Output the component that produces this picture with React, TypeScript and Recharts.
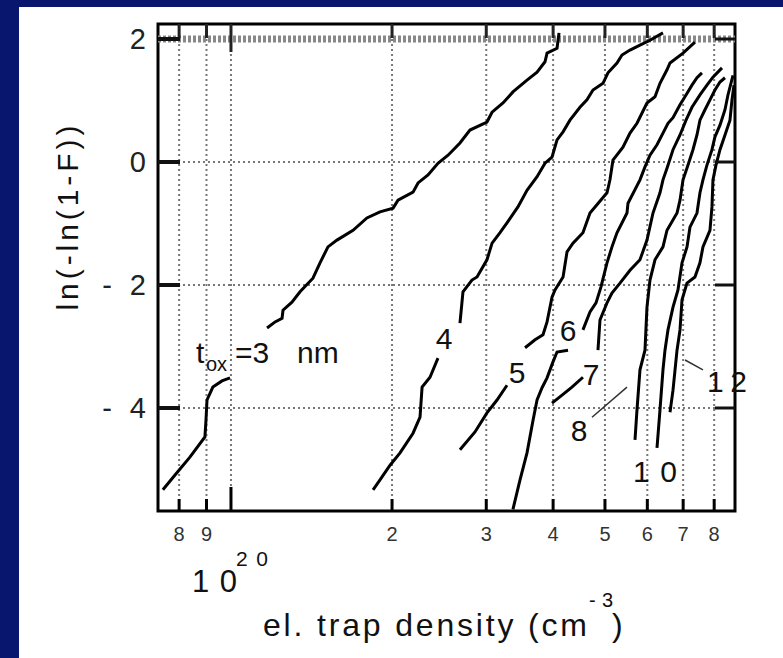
import React from 'react'
import { ComposedChart, Line, XAxis, YAxis, CartesianGrid, ReferenceLine, ReferenceArea } from 'recharts'

// x in units of 1e20 cm^-3, y = ln(-ln(1-F))
const tox3Low = [[0.746, -5.33], [0.786, -5.09], [0.838, -4.8], [0.894, -4.47], [0.898, -4.2], [0.902, -3.87], [0.925, -3.66], [0.962, -3.56], [0.996, -3.51]]
const tox3High = [[1.168, -2.7], [1.209, -2.6], [1.246, -2.54], [1.251, -2.41], [1.3, -2.28], [1.346, -2.11], [1.423, -1.89], [1.467, -1.64], [1.518, -1.38], [1.578, -1.27], [1.691, -1.11], [1.795, -0.91], [1.899, -0.81], [2.009, -0.75], [2.052, -0.62], [2.189, -0.49], [2.237, -0.34], [2.335, -0.21], [2.437, -0.02], [2.545, 0.11], [2.679, 0.31], [2.797, 0.52], [3.009, 0.65], [3.076, 0.81], [3.224, 0.96], [3.365, 1.14], [3.575, 1.33], [3.733, 1.46], [3.863, 1.63], [3.897, 1.77], [4.068, 1.85], [4.103, 2.1]]
const tox4Low = [[1.843, -5.33], [1.899, -5.17], [1.983, -4.93], [2.07, -4.73], [2.189, -4.41], [2.256, -4.15], [2.276, -3.66], [2.355, -3.5], [2.437, -3.19]]
const tox4High = [[2.679, -2.62], [2.714, -2.11], [2.821, -1.92], [2.883, -1.87], [3.009, -1.59], [3.076, -1.32], [3.183, -1.15], [3.28, -0.99], [3.438, -0.73], [3.575, -0.46], [3.733, -0.24], [3.863, -0.02], [3.981, 0.08], [4.068, 0.36], [4.175, 0.49], [4.301, 0.68], [4.49, 0.89], [4.627, 1.01], [4.749, 1.17], [4.958, 1.28], [5.065, 1.45], [5.265, 1.61], [5.38, 1.74], [5.569, 1.82], [5.813, 1.9], [6.069, 1.98], [6.418, 2.1]]
const tox5Low = [[2.679, -4.68], [2.858, -4.39], [3.009, -4.08], [3.142, -3.87], [3.28, -3.63]]
const tox5High = [[3.545, -3.02], [3.701, -2.89], [3.83, -2.81], [3.897, -2.6], [3.981, -2.2], [4.033, -2.08], [4.175, -1.87], [4.247, -1.46], [4.357, -1.32], [4.548, -1.15], [4.688, -0.83], [5.044, -0.5], [5.109, -0.29], [5.175, 0.03], [5.403, 0.24], [5.569, 0.47], [5.739, 0.63], [5.991, 0.96], [6.201, 1.06], [6.336, 1.28], [6.53, 1.5], [6.615, 1.61], [6.996, 1.77], [7.365, 1.95]]
const tox6Low = [[3.365, -5.65], [3.469, -5.17], [3.575, -4.73], [3.669, -4.2], [3.733, -3.87], [3.814, -3.67], [3.897, -3.51], [3.998, -3.25], [4.068, -3.09], [4.265, -3.06]]
const tox6High = [[4.548, -2.73], [4.688, -2.44], [4.811, -2.29], [4.915, -2.03], [5.044, -1.64], [5.153, -1.38], [5.265, -1.15], [5.497, -0.83], [5.521, -0.67], [5.813, -0.29], [5.94, -0.08], [6.069, 0.11], [6.255, 0.28], [6.418, 0.47], [6.558, 0.63], [6.701, 0.72], [6.906, 0.93], [7.087, 1.09], [7.271, 1.25], [7.429, 1.37], [7.59, 1.45]]
const tox7Low = [[3.981, -3.92], [4.157, -3.79], [4.338, -3.66], [4.548, -3.5]]
const tox7High = [[4.852, -3.06], [4.894, -2.57], [5.044, -2.29], [5.153, -2.13], [5.334, -1.97], [5.569, -1.76], [5.813, -1.59], [5.991, -1.27], [6.148, -0.83], [6.336, -0.5], [6.418, -0.29], [6.53, -0.1], [6.701, 0.2], [6.906, 0.44], [7.087, 0.68], [7.271, 0.89], [7.525, 1.09], [7.755, 1.25], [7.958, 1.38], [8.273, 1.53]]
const tox8 = [[5.69, -4.52], [5.739, -4.03], [5.813, -3.38], [5.94, -3.06], [5.991, -2.36], [6.069, -1.92], [6.201, -1.59], [6.418, -1.38], [6.53, -1.11], [6.818, -0.83], [6.906, -0.62], [6.996, -0.29], [7.148, -0.05], [7.302, 0.2], [7.429, 0.44], [7.525, 0.68], [7.689, 0.85], [7.856, 1.01], [8.027, 1.17], [8.202, 1.3], [8.381, 1.37]]
const tox10 = [[6.255, -4.65], [6.336, -4.03], [6.418, -3.38], [6.474, -3.06], [6.558, -2.73], [6.701, -2.36], [6.846, -2.08], [6.966, -1.64], [7.117, -1.38], [7.208, -1.06], [7.429, -0.83], [7.525, -0.5], [7.623, -0.29], [7.755, -0.05], [7.924, 0.2], [8.027, 0.41], [8.202, 0.6], [8.381, 0.85], [8.489, 1.09], [8.675, 1.41]]
const tox12 = [[6.615, -4.07], [6.701, -3.71], [6.818, -3.06], [6.906, -2.73], [6.966, -2.24], [7.117, -1.97], [7.365, -1.87], [7.525, -1.64], [7.623, -1.38], [7.856, -1.11], [7.924, -0.73], [7.958, -0.29], [8.062, -0.05], [8.202, 0.2], [8.381, 0.44], [8.563, 0.68], [8.637, 1.01], [8.712, 1.25]]
const lead8 = [[4.729, -4.15], [5.497, -3.66]]
const lead12 = [[7.057, -3.22], [7.623, -3.38]]

const xTicks = [0.8, 0.9, 1, 2, 3, 4, 5, 6, 7, 8]
const xTickLabels = ['8', '9', '', '2', '3', '4', '5', '6', '7', '8']
const yTicks = [-4, -2, 0, 2]
const yTickLabels = ['4', '2', '0', '2']

const X_MIN = 0.7305
const X_MAX = 8.75
const Y_MIN = -5.675
const Y_MAX = 2.244

const PLOT_LEFT = 158
const PLOT_RIGHT = 735
const PLOT_TOP = 24
const PLOT_BOTTOM = 511
const FONT = '"Liberation Sans", Arial, sans-serif'

const curves = [tox3Low, tox3High, tox4Low, tox4High, tox5Low, tox5High, tox6Low, tox6High, tox7Low, tox7High, tox8, tox10, tox12]
const leaders = [lead8, lead12]
const toPts = (a: number[][]) => a.map(([x, y]) => ({ x, y }))

const XTick = (props: any) => {
  const { x, payload } = props
  const i = xTicks.indexOf(payload.value)
  const long = payload.value === 1
  return (
    <g>
      <line x1={x} x2={x} y1={PLOT_BOTTOM} y2={PLOT_BOTTOM - (long ? 24 : 12)} stroke="#000" strokeWidth={3} />
      <line x1={x} x2={x} y1={PLOT_TOP} y2={PLOT_TOP + (long ? 28 : 14)} stroke="#222" strokeWidth={3} />
      <text x={x} y={PLOT_BOTTOM + 30} textAnchor="middle" fontSize={20} fontFamily={FONT} fill="#333">
        {xTickLabels[i]}
      </text>
    </g>
  )
}

const YTick = (props: any) => {
  const { y, payload } = props
  const i = yTicks.indexOf(payload.value)
  const neg = payload.value < 0
  return (
    <g>
      <line x1={PLOT_LEFT} x2={PLOT_LEFT + 22} y1={y} y2={y} stroke="#111" strokeWidth={4} />
      <line x1={PLOT_RIGHT - 20} x2={PLOT_RIGHT} y1={y} y2={y} stroke="#111" strokeWidth={3} />
      {neg && (
        <text x={107} y={y + 10} textAnchor="middle" fontSize={29} fontFamily={FONT} fill="#222">-</text>
      )}
      <text x={146} y={y + 10} textAnchor="end" fontSize={29} fontFamily={FONT} fill="#222">
        {yTickLabels[i]}
      </text>
    </g>
  )
}

const Labels = () => (
  <svg width={783} height={658} style={{ position: 'absolute', left: 0, top: 0, pointerEvents: 'none' }}>
    <g fontFamily={FONT} fill="#111">
      <text x={196} y={363} fontSize={30}>t</text>
      <text x={206} y={371} fontSize={20}>ox</text>
      <text x={235} y={363} fontSize={30}>=3</text>
      <text x={297} y={363} fontSize={30}>nm</text>
      <text x={444} y={349} fontSize={30} textAnchor="middle">4</text>
      <text x={517} y={383} fontSize={30} textAnchor="middle">5</text>
      <text x={568} y={341} fontSize={30} textAnchor="middle">6</text>
      <text x={591} y={385} fontSize={30} textAnchor="middle">7</text>
      <text x={579} y={441} fontSize={30} textAnchor="middle">8</text>
      <text x={633} y={482} fontSize={30} textLength={44} lengthAdjust="spacing">10</text>
      <text x={707} y={392} fontSize={30} textLength={40} lengthAdjust="spacing">12</text>
      <text x={192} y={592} fontSize={31} textLength={45} lengthAdjust="spacing">10</text>
      <text x={236} y={566} fontSize={21} textLength={32} lengthAdjust="spacing">20</text>
      <text x={263} y={636} fontSize={32} textLength={324} lengthAdjust="spacing">el. trap density  (cm</text>
      <text x={589} y={607} fontSize={20} textLength={24} lengthAdjust="spacing">-3</text>
      <text x={612} y={636} fontSize={32}>)</text>
      <text x={0} y={0} fontSize={30} textLength={185} lengthAdjust="spacing" textAnchor="middle"
        transform="translate(78 218) rotate(-90)">ln(-ln(1-F))</text>
    </g>
  </svg>
)

export default function App() {
  return (
    <div style={{ position: 'fixed', left: 0, top: 0, width: '100vw', height: '100vh', minWidth: 783, minHeight: 658, background: '#08166e', overflow: 'hidden' }}>
      <div style={{ position: 'absolute', left: 19, top: 7, width: 2000, height: 2000, background: '#fff' }} />
      <div style={{ position: 'absolute', left: 0, top: 0 }}>
        <ComposedChart width={783} height={658} margin={{ top: PLOT_TOP, right: 783 - PLOT_RIGHT, left: PLOT_LEFT - 60, bottom: 658 - PLOT_BOTTOM - 40 }}>
          <CartesianGrid stroke="#777" strokeDasharray="2 3" strokeWidth={2} />
          <XAxis dataKey="x" type="number" scale="log" domain={[X_MIN, X_MAX]} ticks={xTicks} interval={0}
            allowDataOverflow tick={<XTick />} tickLine={false} axisLine={false} tickSize={0} height={40} />
          <YAxis type="number" domain={[Y_MIN, Y_MAX]} ticks={yTicks} interval={0} allowDataOverflow
            tick={<YTick />} tickLine={false} axisLine={false} tickSize={0} width={60} />
          <ReferenceLine y={2} stroke="#888" strokeWidth={7} strokeDasharray="3 2" />
          <ReferenceArea x1={X_MIN} x2={X_MAX} y1={Y_MIN} y2={Y_MAX} fill="none" stroke="#000" strokeWidth={3} />
          {curves.map((c, i) => (
            <Line key={'c' + i} data={toPts(c)} dataKey="y" type="linear" stroke="#000" strokeWidth={3}
              dot={false} isAnimationActive={false} />
          ))}
          {leaders.map((c, i) => (
            <Line key={'l' + i} data={toPts(c)} dataKey="y" type="linear" stroke="#333" strokeWidth={1.5}
              dot={false} isAnimationActive={false} />
          ))}
        </ComposedChart>
      </div>
      <Labels />
    </div>
  )
}
